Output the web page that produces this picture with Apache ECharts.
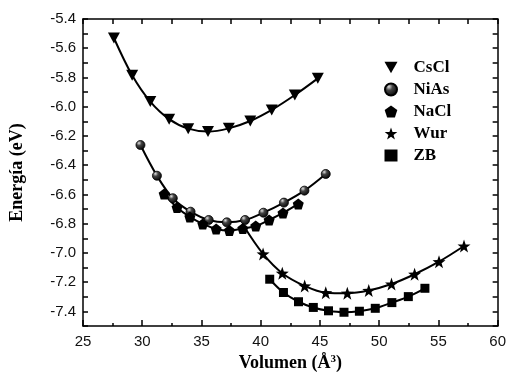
<!DOCTYPE html>
<html>
<head>
<meta charset="utf-8">
<script src="https://cdn.jsdelivr.net/npm/echarts@6/dist/echarts.min.js"></script>
<style>
html,body{margin:0;padding:0;background:#fff;}
#chart{width:509px;height:381px;}
</style>
</head>
<body>
<div id="chart"></div>
<script>
// ---- data ----
const seriesNames = ['CsCl', 'NiAs', 'NaCl', 'Wur', 'ZB'];

const csclV = [27.61, 29.15, 30.68, 32.27, 33.88, 35.55, 37.31, 39.12, 40.93, 42.88, 44.82];
const csclE = [-5.53, -5.785, -5.965, -6.085, -6.15, -6.17, -6.148, -6.098, -6.022, -5.92, -5.806];

const niasV = [29.85, 31.24, 32.58, 34.08, 35.61, 37.14, 38.68, 40.23, 41.96, 43.69, 45.49];
const niasE = [-6.262, -6.472, -6.626, -6.718, -6.775, -6.791, -6.775, -6.725, -6.656, -6.574, -6.46];

const naclV = [31.85, 32.94, 34.02, 35.11, 36.24, 37.36, 38.49, 39.58, 40.71, 41.88, 43.17];
const naclE = [-6.597, -6.689, -6.754, -6.802, -6.836, -6.847, -6.833, -6.816, -6.775, -6.727, -6.665];

const wurV = [40.20, 41.82, 43.71, 45.49, 47.31, 49.12, 51.04, 52.99, 55.05, 57.16];
const wurE = [-7.007, -7.139, -7.226, -7.272, -7.276, -7.257, -7.213, -7.146, -7.06, -6.953];
// fitted Wur curve continues a little to the left of the first star
const wurFitStartV = [38.62];
const wurFitStartE = [-6.823];

const zbV = [40.76, 41.92, 43.19, 44.44, 45.72, 47.03, 48.33, 49.67, 51.07, 52.46, 53.86];
const zbE = [-7.18, -7.271, -7.334, -7.373, -7.396, -7.406, -7.399, -7.379, -7.34, -7.299, -7.242];

const xMin = 25, xMax = 60, xStep = 5;
const yMin = -7.5, yMax = -5.4, yStep = 0.1;

// ---- helpers ----
const zip = (a, b) => a.map((v, i) => [v, b[i]]);

const pentagonPath = 'path://M0,-10L9.51,-3.09L5.88,8.09L-5.88,8.09L-9.51,-3.09Z';
const starPath = 'path://M0,-10L2.35,-3.24L9.51,-3.09L3.8,1.24L5.88,8.09L0,4L-5.88,8.09L-3.8,1.24L-9.51,-3.09L-2.35,-3.24Z';
const triDownPath = 'path://M0,0L12,0L6,10.5Z';

const sphere = {
  type: 'radial', x: 0.35, y: 0.3, r: 0.75,
  colorStops: [
    {offset: 0, color: '#e0e0e0'},
    {offset: 0.35, color: '#444'},
    {offset: 1, color: '#000'}
  ]
};

const lineStyle = {color: '#000', width: 2};
const baseSeries = {
  type: 'line',
  smooth: 0.35,
  lineStyle: lineStyle,
  itemStyle: {color: '#000'},
  emphasis: {disabled: true},
  animation: false,
  z: 3
};

const wurData = zip(wurFitStartV, wurFitStartE).map(p => ({value: p, symbol: 'none'}))
  .concat(zip(wurV, wurE));

const series = [
  Object.assign({}, baseSeries, {name: 'CsCl', data: zip(csclV, csclE), symbol: triDownPath, symbolSize: [12, 11]}),
  Object.assign({}, baseSeries, {name: 'NiAs', data: zip(niasV, niasE), symbol: 'circle', symbolSize: 9,
    itemStyle: {color: sphere, borderColor: '#000', borderWidth: 0.8}}),
  Object.assign({}, baseSeries, {name: 'NaCl', data: zip(naclV, naclE), symbol: pentagonPath, symbolSize: 11}),
  Object.assign({}, baseSeries, {name: 'Wur', data: wurData, symbol: starPath, symbolSize: 13}),
  Object.assign({}, baseSeries, {name: 'ZB', data: zip(zbV, zbE), symbol: 'rect', symbolSize: 9})
];

const axisLineStyle = {lineStyle: {color: '#000', width: 1.5}};
const tickLabelStyle = {fontFamily: 'Liberation Sans', fontSize: 15, color: '#111'};

const chart = echarts.init(document.getElementById('chart'), null, {renderer: 'canvas'});
chart.setOption({
  backgroundColor: '#fff',
  animation: false,
  grid: {left: 82, right: 8, top: 19, bottom: 55},
  legend: {
    orient: 'vertical',
    left: 379,
    top: 54,
    itemGap: 5,
    itemWidth: 13,
    itemHeight: 12,
    selectedMode: false,
    textStyle: {fontFamily: 'Liberation Serif', fontWeight: 'bold', fontSize: 17, color: '#000', padding: [0, 0, 0, 11]},
    data: [
      {name: 'CsCl', icon: triDownPath, itemStyle: {color: '#000'}},
      {name: 'NiAs', icon: 'circle', itemStyle: {color: sphere}},
      {name: 'NaCl', icon: pentagonPath, itemStyle: {color: '#000'}},
      {name: 'Wur', icon: starPath, itemStyle: {color: '#000'}},
      {name: 'ZB', icon: 'rect', itemStyle: {color: '#000'}}
    ]
  },
  xAxis: [
    {
      type: 'value', position: 'bottom', min: xMin, max: xMax, interval: xStep,
      axisLine: axisLineStyle,
      axisTick: {inside: true, length: 6, lineStyle: {color: '#000', width: 1.5}},
      minorTick: {show: true, splitNumber: 2, length: 3, lineStyle: {color: '#000', width: 1.5}},
      splitLine: {show: false},
      axisLabel: Object.assign({margin: 8}, tickLabelStyle),
      name: 'Volumen (Å{s|3})',
      nameLocation: 'middle',
      nameGap: 27,
      nameTextStyle: {
        fontFamily: 'Liberation Serif', fontWeight: 'bold', fontSize: 18, color: '#000',
        rich: {s: {fontFamily: 'Liberation Serif', fontWeight: 'bold', fontSize: 11, color: '#000', verticalAlign: 'top', padding: [0, 0, 8, 0]}}
      }
    },
    {
      type: 'value', position: 'top', min: xMin, max: xMax, interval: xStep,
      axisLine: axisLineStyle,
      axisTick: {inside: true, length: 5, lineStyle: {color: '#000', width: 1.5}},
      minorTick: {show: true, splitNumber: 2, length: 5, lineStyle: {color: '#000', width: 1.5}},
      splitLine: {show: false},
      axisLabel: {show: false}
    }
  ],
  yAxis: [
    {
      type: 'value', position: 'left', min: yMin, max: yMax, interval: yStep,
      axisLine: axisLineStyle,
      axisTick: {inside: true, length: 5, lineStyle: {color: '#000', width: 1.5}},
      splitLine: {show: false},
      axisLabel: Object.assign({
        margin: 7,
        formatter: v => (Math.round(v * 10) % 2 === 0 ? v.toFixed(1) : '')
      }, tickLabelStyle),
      name: 'Energía (eV)',
      nameLocation: 'middle',
      nameGap: 57,
      nameRotate: 90,
      nameTextStyle: {fontFamily: 'Liberation Serif', fontWeight: 'bold', fontSize: 18, color: '#000'}
    },
    {
      type: 'value', position: 'right', min: yMin, max: yMax, interval: yStep,
      axisLine: axisLineStyle,
      axisTick: {inside: true, length: 5, lineStyle: {color: '#000', width: 1.5}},
      splitLine: {show: false},
      axisLabel: {show: false}
    }
  ],
  series: series
});
</script>
</body>
</html>
